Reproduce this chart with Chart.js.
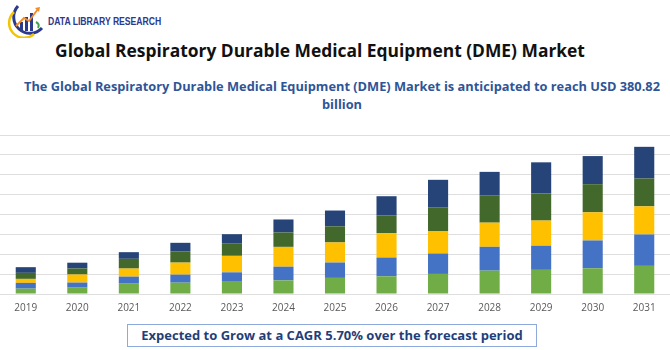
<!DOCTYPE html>
<html>
<head>
<meta charset="utf-8">
<script src="https://cdn.jsdelivr.net/npm/chart.js@4.4.1/dist/chart.umd.min.js"></script>
<style>
  body{margin:0;background:#fff;width:670px;height:350px;position:relative;overflow:hidden;font-family:"Open Sans",sans-serif;}
  #logo{position:absolute;left:4px;top:2px;}
  #brand{position:absolute;left:48px;top:15px;font-family:"Liberation Sans",sans-serif;font-weight:bold;font-size:10.5px;color:#2B3A8C;transform:scaleX(0.82);transform-origin:left top;white-space:nowrap;}
  #title{position:absolute;left:-15px;top:38px;width:670px;text-align:center;font-weight:bold;font-size:17.4px;color:#111;}
  #sub{position:absolute;left:8px;top:77px;width:668px;text-align:center;font-weight:bold;font-size:12.8px;line-height:18px;color:#2E5597;}
  #wrap{position:absolute;left:0;top:125px;width:670px;height:189px;}
  #cagr{position:absolute;left:127px;top:324px;width:410px;height:23px;border:1px solid #8EA9DB;box-sizing:border-box;text-align:center;font-weight:bold;font-size:13px;line-height:21px;color:#1F3F7A;}
</style>
</head>
<body>
<svg id="logo" width="46" height="36" viewBox="0 0 46 36">
  <path d="M14 4 A15 15 0 1 0 38 26" fill="none" stroke="#2B3A8C" stroke-width="3"/>
  <path d="M10 10 A13 13 0 0 0 30 32" fill="none" stroke="#F2C500" stroke-width="2.5"/>
  <rect x="16" y="20" width="3" height="9" fill="#2B3A8C"/>
  <rect x="21" y="15" width="3" height="14" fill="#2B3A8C"/>
  <rect x="26" y="11" width="3" height="18" fill="#2B3A8C"/>
  <path d="M12 24 L20 16 L25 19 L34 7" fill="none" stroke="#F28C28" stroke-width="1.8"/>
  <path d="M31 6 L36 5 L35 10 Z" fill="#F28C28"/>
  <path d="M32 20 q4 2 2 6" fill="none" stroke="#3FA34D" stroke-width="2"/>
</svg>
<div id="brand">DATA LIBRARY RESEARCH</div>
<div id="title">Global Respiratory Durable Medical Equipment (DME) Market</div>
<div id="sub">The Global Respiratory Durable Medical Equipment (DME) Market is anticipated to reach USD 380.82 billion</div>
<div id="wrap"><canvas id="chart"></canvas></div>
<div id="cagr">Expected to Grow at a CAGR 5.70% over the forecast period</div>
<script>
const years = ['2019','2020','2021','2022','2023','2024','2025','2026','2027','2028','2029','2030','2031'];
const seriesA = [5.4, 6.4, 10.4, 11.4, 13.1, 13.7, 16.2, 17.8, 20.2, 23.5, 24.3, 25.9, 28.3];
const seriesB = [5.8, 5.1, 7.1, 8.1, 8.7, 13.8, 15.5, 18.9, 20.6, 24.0, 24.3, 28.0, 31.6];
const seriesC = [4.0, 8.1, 8.1, 12.1, 16.6, 19.9, 20.2, 24.6, 22.6, 24.3, 25.3, 28.3, 28.3];
const seriesD = [6.1, 6.1, 9.8, 11.1, 12.7, 14.5, 16.2, 17.9, 23.5, 27.6, 27.3, 28.3, 28.0];
const seriesE = [5.7, 5.8, 6.7, 8.8, 9.1, 13.1, 15.9, 19.2, 28.0, 23.5, 31.3, 28.3, 31.9];

const names = ['Segment 1','Segment 2','Segment 3','Segment 4','Segment 5'];
const colors = ['#70AD47','#4472C4','#FFC000','#43682B','#264478'];
const all = [seriesA, seriesB, seriesC, seriesD, seriesE];

new Chart(document.getElementById('chart'), {
  type: 'bar',
  data: {
    labels: years,
    datasets: all.map(function(d, i){
      return {label: names[i], data: d, backgroundColor: colors[i],
              barPercentage: 0.39, categoryPercentage: 1};
    })
  },
  options: {
    responsive: true,
    maintainAspectRatio: false,
    animation: false,
    layout: {padding: {top: 10, left: 0, right: 0, bottom: 0}},
    plugins: {legend: {display: false}, tooltip: {enabled: false}},
    scales: {
      x: {
        stacked: true,
        grid: {display: false},
        border: {display: false},
        ticks: {color: '#595959', font: {family: 'Open Sans', size: 10}, padding: 0}
      },
      y: {
        stacked: true,
        display: true,
        min: 0, max: 160,
        ticks: {display: false, stepSize: 20},
        grid: {color: '#dedede', lineWidth: 1, drawTicks: false},
        border: {display: false}
      }
    }
  }
});
</script>
</body>
</html>
